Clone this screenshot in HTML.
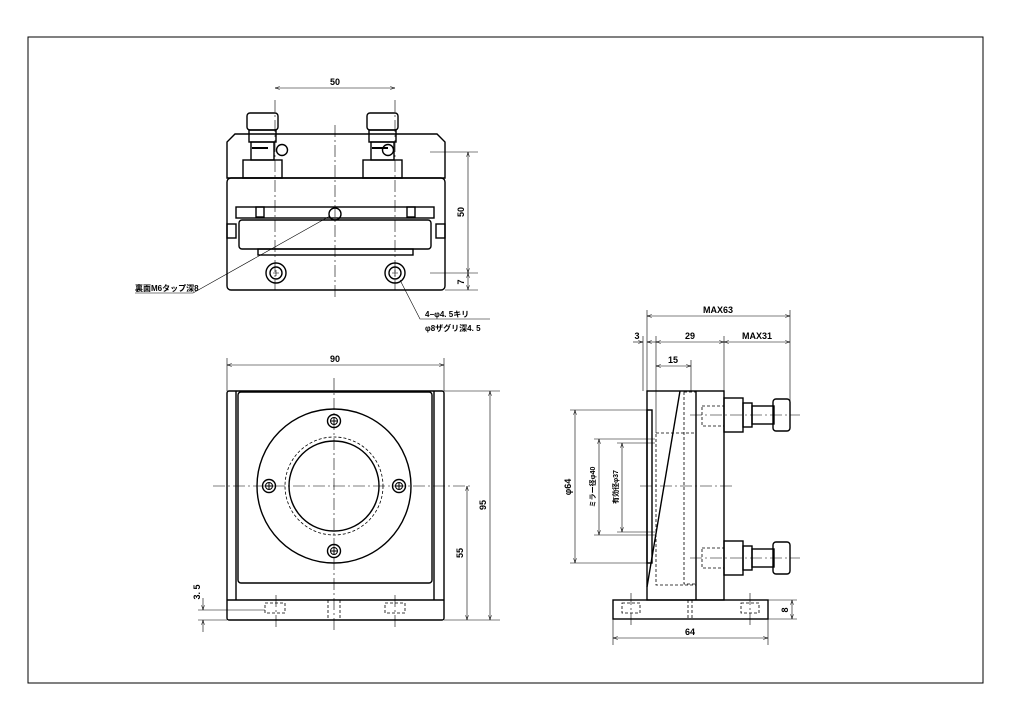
<!DOCTYPE html>
<html><head><meta charset="utf-8"><style>
html,body{margin:0;padding:0;background:#fff;}
svg{display:block;}
text{font-family:"Liberation Sans","Noto Sans CJK JP",sans-serif;font-size:9px;font-weight:bold;fill:#000;}
</style></head><body>
<svg width="1024" height="724" viewBox="0 0 1024 724" xmlns="http://www.w3.org/2000/svg">
<defs>
<marker id="a" viewBox="0 0 10 6" refX="10" refY="3" markerWidth="10" markerHeight="5" orient="auto-start-reverse"><path d="M0,0 L10,3 L0,6" fill="none" stroke="#000" stroke-width="1"/></marker>
</defs>
<rect x="28" y="37" width="955" height="646" fill="none" stroke="#000" stroke-width="1"/>
<g fill="none" stroke="#000" stroke-width="1.4">
<path d="M235,134 H437 L445,142 V178 H227 V142 Z"/>
<rect x="227" y="178" width="218" height="112" rx="4"/>
<rect x="236" y="207" width="198" height="11"/>
<rect x="239" y="220" width="192" height="29" rx="3"/>
<rect x="258" y="249" width="155" height="6"/>
<rect x="227" y="224" width="9" height="14"/><rect x="436" y="224" width="9" height="14"/>
<rect x="256" y="207" width="8" height="10"/><rect x="407" y="207" width="8" height="10"/>
<circle cx="335" cy="214" r="6"/>
<g id="mt">
<rect x="247" y="113" width="31" height="17" rx="3"/>
<rect x="249" y="130" width="27" height="12"/>
<rect x="251" y="142" width="23" height="18"/>
<rect x="243" y="160" width="39" height="18"/>
<line x1="252" y1="148" x2="268" y2="148" stroke-width="2"/>
</g>
<circle cx="282" cy="150" r="5.5"/>
<use href="#mt" transform="translate(120,0)"/>
<circle cx="388" cy="150" r="5.5"/>
<circle cx="276" cy="273" r="10"/><circle cx="276" cy="273" r="6"/>
<circle cx="395" cy="273" r="10"/><circle cx="395" cy="273" r="6"/>
<rect x="227" y="391" width="217" height="229" rx="2"/>
<line x1="236" y1="391" x2="236" y2="600"/><line x1="434" y1="391" x2="434" y2="600"/>
<rect x="238" y="392" width="194" height="191" rx="3"/>
<line x1="227" y1="600" x2="444" y2="600"/>
<circle cx="334" cy="486" r="77"/>
<circle cx="334" cy="486" r="45"/>
<circle cx="334" cy="486" r="49" stroke-dasharray="3,2" stroke-width="0.8"/>
<g id="sc"><circle cx="334" cy="421" r="6.5"/><circle cx="334" cy="421" r="3.5" stroke-width="1"/><path d="M331,421 H337 M334,418 V424" stroke-width="1"/></g>
<use href="#sc" transform="translate(0,130)"/>
<use href="#sc" transform="translate(-65,65)"/>
<use href="#sc" transform="translate(65,65)"/>
<rect x="613" y="600" width="155" height="19"/>
<rect x="647" y="391" width="77" height="209"/>
<line x1="696" y1="391" x2="696" y2="600"/>
<line x1="680" y1="391" x2="647" y2="587"/>
<rect x="647" y="410" width="5" height="153"/>
<g id="ms">
<rect x="724" y="398" width="19" height="34"/>
<rect x="743" y="403" width="9" height="24"/>
<rect x="752" y="406" width="22" height="18"/>
<rect x="773" y="399" width="17" height="32" rx="3"/>
</g>
<use href="#ms" transform="translate(0,143)"/>
</g>
<g fill="none" stroke="#000" stroke-width="0.8" stroke-dasharray="3,2">
<rect x="656" y="433" width="40" height="152"/>
<rect x="684" y="392" width="12" height="192"/>
<rect x="702" y="406" width="22" height="20"/><rect x="702" y="548" width="22" height="20"/>
<rect x="622" y="603" width="18" height="10"/><rect x="741" y="603" width="18" height="10"/>
<line x1="688" y1="600" x2="688" y2="619"/><line x1="692" y1="600" x2="692" y2="619"/>
<rect x="265" y="603" width="20" height="10"/><rect x="385" y="603" width="20" height="10"/>
<line x1="328" y1="600" x2="328" y2="619"/><line x1="340" y1="600" x2="340" y2="619"/>
</g>
<g stroke="#000" stroke-width="0.6" stroke-dasharray="12,3,2,3" fill="none">
<line x1="335" y1="125" x2="335" y2="298"/>
<line x1="275" y1="100" x2="275" y2="290"/><line x1="395" y1="100" x2="395" y2="290"/>
<line x1="213" y1="486" x2="470" y2="486"/>
<line x1="334" y1="378" x2="334" y2="632"/>
<line x1="640" y1="486" x2="735" y2="486"/>
<line x1="690" y1="415" x2="800" y2="415"/><line x1="690" y1="558" x2="800" y2="558"/>
<line x1="276" y1="595" x2="276" y2="628"/><line x1="395" y1="595" x2="395" y2="628"/>
<line x1="631" y1="593" x2="631" y2="627"/><line x1="750" y1="593" x2="750" y2="627"/>
</g>
<g stroke="#000" stroke-width="0.6" fill="none">
<path d="M273,273 H279 M276,270 V276 M392,273 H398 M395,270 V276"/>
<line x1="275" y1="88" x2="395" y2="88" marker-start="url(#a)" marker-end="url(#a)"/>
<line x1="430" y1="152" x2="478" y2="152"/><line x1="430" y1="273" x2="478" y2="273"/><line x1="445" y1="290" x2="478" y2="290"/>
<line x1="468" y1="152" x2="468" y2="273" marker-start="url(#a)" marker-end="url(#a)"/>
<line x1="468" y1="273" x2="468" y2="290" marker-start="url(#a)" marker-end="url(#a)"/>
<polyline points="330,216 193,293 135,293"/>
<polyline points="400,280 420,319 490,319"/>
<line x1="227" y1="358" x2="227" y2="391"/><line x1="444" y1="358" x2="444" y2="391"/>
<line x1="227" y1="365" x2="444" y2="365" marker-start="url(#a)" marker-end="url(#a)"/>
<line x1="444" y1="391" x2="500" y2="391"/><line x1="444" y1="620" x2="500" y2="620"/>
<line x1="490" y1="391" x2="490" y2="620" marker-start="url(#a)" marker-end="url(#a)"/>
<line x1="467" y1="486" x2="467" y2="620" marker-start="url(#a)" marker-end="url(#a)"/>
<line x1="198" y1="610" x2="265" y2="610"/><line x1="198" y1="620" x2="227" y2="620"/>
<line x1="203" y1="598" x2="203" y2="610" marker-end="url(#a)"/><line x1="203" y1="632" x2="203" y2="620" marker-end="url(#a)"/>
<line x1="647" y1="310" x2="647" y2="391"/><line x1="790" y1="310" x2="790" y2="405"/>
<line x1="656" y1="336" x2="656" y2="433"/><line x1="724" y1="336" x2="724" y2="398"/>
<line x1="643" y1="336" x2="643" y2="391"/><line x1="691" y1="360" x2="691" y2="391"/>
<line x1="647" y1="316" x2="790" y2="316" marker-start="url(#a)" marker-end="url(#a)"/>
<line x1="633" y1="342" x2="643" y2="342" marker-end="url(#a)"/><line x1="657" y1="342" x2="647" y2="342" marker-end="url(#a)"/>
<line x1="656" y1="342" x2="724" y2="342" marker-start="url(#a)" marker-end="url(#a)"/>
<line x1="724" y1="342" x2="790" y2="342" marker-start="url(#a)" marker-end="url(#a)"/>
<line x1="656" y1="366" x2="691" y2="366" marker-start="url(#a)" marker-end="url(#a)"/>
<line x1="570" y1="410" x2="650" y2="410"/><line x1="570" y1="563" x2="650" y2="563"/>
<line x1="575" y1="410" x2="575" y2="563" marker-start="url(#a)" marker-end="url(#a)"/>
<line x1="594" y1="439" x2="655" y2="439"/><line x1="594" y1="535" x2="655" y2="535"/>
<line x1="599" y1="439" x2="599" y2="535" marker-start="url(#a)" marker-end="url(#a)"/>
<line x1="617" y1="443" x2="655" y2="443"/><line x1="617" y1="532" x2="655" y2="532"/>
<line x1="622" y1="443" x2="622" y2="532" marker-start="url(#a)" marker-end="url(#a)"/>
<line x1="768" y1="600" x2="797" y2="600"/><line x1="768" y1="619" x2="797" y2="619"/>
<line x1="792" y1="600" x2="792" y2="619" marker-start="url(#a)" marker-end="url(#a)"/>
<line x1="613" y1="619" x2="613" y2="645"/><line x1="768" y1="619" x2="768" y2="645"/>
<line x1="613" y1="638" x2="768" y2="638" marker-start="url(#a)" marker-end="url(#a)"/>
</g>
<text x="335" y="85" text-anchor="middle">50</text>
<text transform="translate(464,212) rotate(-90)" text-anchor="middle">50</text>
<text transform="translate(464,282) rotate(-90)" text-anchor="middle">7</text>
<text x="135" y="291" style="font-size:8px">裏面M6タップ深8</text>
<text x="425" y="317" style="font-size:8px">4−φ4. 5キリ</text>
<text x="425" y="331" style="font-size:8px">φ8ザグリ深4. 5</text>
<text x="335" y="362" text-anchor="middle">90</text>
<text transform="translate(486,505) rotate(-90)" text-anchor="middle">95</text>
<text transform="translate(463,553) rotate(-90)" text-anchor="middle">55</text>
<text transform="translate(200,592) rotate(-90)" text-anchor="middle">3. 5</text>
<text x="718" y="313" text-anchor="middle">MAX63</text>
<text x="637" y="339" text-anchor="middle">3</text>
<text x="690" y="339" text-anchor="middle">29</text>
<text x="757" y="339" text-anchor="middle">MAX31</text>
<text x="673" y="363" text-anchor="middle">15</text>
<text transform="translate(571,487) rotate(-90)" text-anchor="middle">φ64</text>
<text transform="translate(595,487) rotate(-90)" text-anchor="middle" style="font-size:7px">ミラー径φ40</text>
<text transform="translate(618,487) rotate(-90)" text-anchor="middle" style="font-size:7px">有効径φ37</text>
<text transform="translate(788,610) rotate(-90)" text-anchor="middle">8</text>
<text x="690" y="635" text-anchor="middle">64</text>
</svg>
</body></html>
